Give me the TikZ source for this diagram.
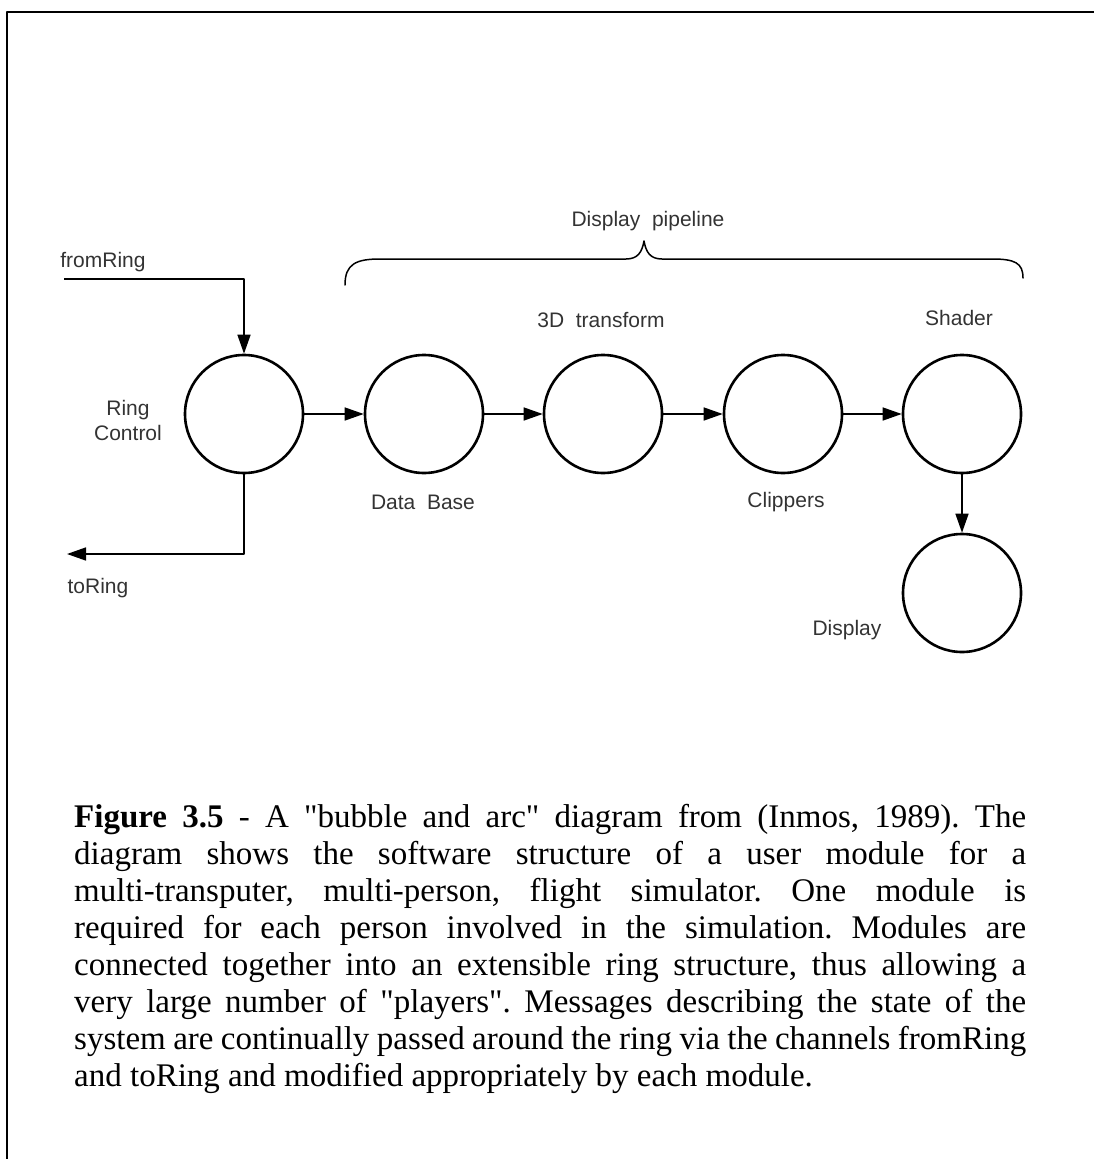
\documentclass[tikz,border=0pt]{standalone}
\usepackage{fontspec}
\newfontfamily\capfont{Liberation Serif}
\newfontfamily\labfont{Liberation Sans}
\usetikzlibrary{arrows.meta}
\begin{document}
\begin{tikzpicture}[x=1pt,y=-1pt,
  bubble/.style={circle, draw, line width=2.6pt, minimum size=118pt, inner sep=0pt},
  conn/.style={line width=1.5pt, -{Triangle[length=19pt,width=13pt]}},
  lab/.style={font=\labfont\fontsize{21}{25}\selectfont, text=black!80, inner sep=0pt},
  line join=round]
\useasboundingbox (0,0) rectangle (1094,1159);
% frame
\draw[line width=2pt] (7,1159) -- (7,12) -- (1094,12);
% bubbles
\node[bubble] (rc) at (244,414) {};
\node[bubble] (db) at (424,414) {};
\node[bubble] (td) at (603,414) {};
\node[bubble] (cl) at (783,414) {};
\node[bubble] (sh) at (962,414) {};
\node[bubble] (di) at (962,593) {};
% connectors
\coordinate (fr) at (64,279);
\coordinate (tr) at (67,554);
\draw[conn] (fr) -- (rc.north |- fr) -- (rc.north);
\draw[conn] (rc.south) -- (rc.south |- tr) -- (tr);
\draw[conn] (rc) -- (db);
\draw[conn] (db) -- (td);
\draw[conn] (td) -- (cl);
\draw[conn] (cl) -- (sh);
\draw[conn] (sh) -- (di);
% labels
\node[lab] (lfr) at (103,262) {fromRing};
\node[lab] (ltr) at (98,588) {toRing};
\node[lab, align=center] (lrc) at (128,420) {Ring\\Control};
\node[lab] (ldb) at (423,502) {Data~ Base};
\node[lab] (lcl) at (786,502) {Clippers};
\node[lab] (ltd) at (601,320) {3D~ transform};
\node[lab] (lsh) at (959,318) {Shader};
\node[lab] (ldi) at (847,630) {Display};
\node[lab] (ldp) at (648,221) {Display~ pipeline};
% brace
\draw[line width=1.5pt, line cap=round]
  (345,285) .. controls (345,264) and (356,259) .. (380,259)
  -- (626,259) .. controls (638,259) and (642,252) .. (644,241)
  .. controls (646,252) and (650,259) .. (662,259)
  -- (992,259) .. controls (1015,259) and (1023,263) .. (1023,278);
% caption
\node[anchor=base west, text width=952pt, inner sep=0pt, align=justify,
      font=\capfont\fontsize{33}{37}\selectfont] (cap) at (74,827)
{\tolerance=10000 \hbadness=10000 \hyphenpenalty=10000 \frenchspacing
\textbf{Figure 3.5} - A "bubble and arc" diagram from (Inmos, 1989). The\linebreak
diagram shows the software structure of a user module for a\linebreak
multi-transputer, multi-person, flight simulator. One module is\linebreak
required for each person involved in the simulation. Modules are\linebreak
connected together into an extensible ring structure, thus allowing a\linebreak
very large number of "players". Messages describing the state of the\linebreak
{\spaceskip=0.4\fontdimen2\font plus 1\fontdimen2\font minus 0.2\fontdimen2\font system are continually passed around the ring via the channels fromRing}\linebreak
and toRing and modified appropriately by each module.};
\end{tikzpicture}
\end{document}
